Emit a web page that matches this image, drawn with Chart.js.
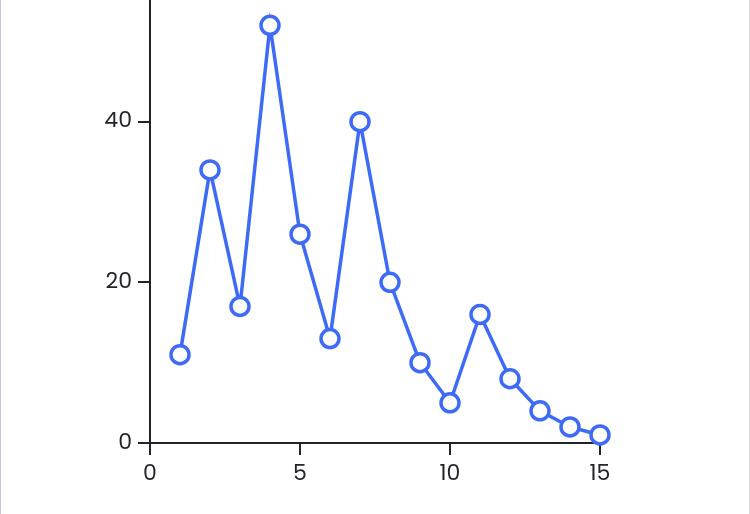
<!DOCTYPE html>
<html>
<head>
<meta charset="utf-8">
<script src="https://cdn.jsdelivr.net/npm/chart.js@4"></script>
<style>
  html, body { margin: 0; padding: 0; background: #fff; }
  #wrap { position: relative; width: 750px; height: 514px; box-sizing: border-box; overflow: hidden;
          border-left: 1px solid #c4c6e8; border-right: 1px solid #e2e2e2; }
  /* the y axis keeps some room above for its top label; pull the canvas up so the axis reaches the top edge */
  canvas { display: block; margin-top: -18px; }
</style>
</head>
<body>
<div id="wrap"><canvas id="chart" width="748" height="532"></canvas></div>
<script>
// values
const xs = [1, 2, 3, 4, 5, 6, 7, 8, 9, 10, 11, 12, 13, 14, 15];
const ys = [11, 34, 17, 52, 26, 13, 40, 20, 10, 5, 16, 8, 4, 2, 1];
const xTicks = [0, 5, 10, 15];
const yTicks = [0, 20, 40];

const axisColor = "#222429";
const lineColor = "#3d6bf6";
const font = { family: "Poppins, Inter, 'Noto Sans', sans-serif", size: 22 };

const ctx = document.getElementById("chart").getContext("2d");
new Chart(ctx, {
  type: "line",
  data: {
    datasets: [{
      data: xs.map((x, i) => ({ x: x, y: ys[i] })),
      borderColor: lineColor,
      borderWidth: 3.5,
      pointRadius: 9,
      pointBorderWidth: 3.5,
      pointBackgroundColor: "#fff",
      pointBorderColor: lineColor,
      tension: 0,
      clip: false,
    }],
  },
  options: {
    responsive: false,
    animation: false,
    layout: { autoPadding: false, padding: { left: 0, right: 149, top: 0, bottom: 0 } },
    plugins: { legend: { display: false }, tooltip: { enabled: false } },
    scales: {
      x: {
        type: "linear",
        min: 0, max: 15,
        afterBuildTicks: (s) => { s.ticks = xTicks.map(v => ({ value: v })); },
        afterFit: (s) => { s.height = 71; },
        border: { color: axisColor, width: 2 },
        grid: { drawOnChartArea: false, color: axisColor, tickLength: 12, lineWidth: 2 },
        ticks: { color: axisColor, font: font, padding: 6, maxRotation: 0 },
      },
      y: {
        min: 0, max: 55,
        afterBuildTicks: (s) => { s.ticks = yTicks.map(v => ({ value: v })); },
        afterFit: (s) => { s.width = 149; },
        border: { color: axisColor, width: 2 },
        grid: { drawOnChartArea: false, color: axisColor, tickLength: 12, lineWidth: 2 },
        ticks: { color: axisColor, font: font, padding: 6 },
      },
    },
  },
});
</script>
</body>
</html>
